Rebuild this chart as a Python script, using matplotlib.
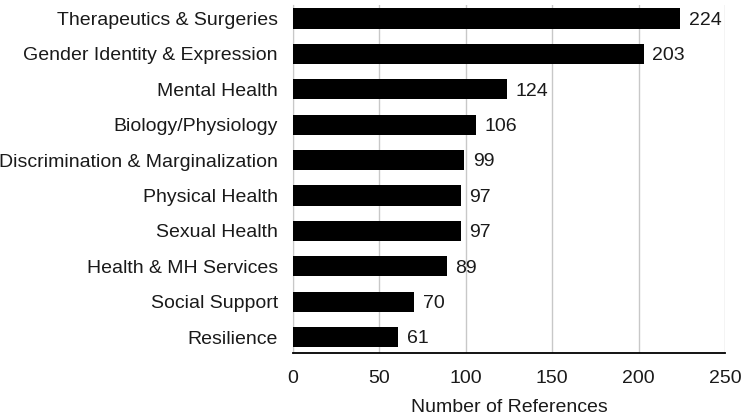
import matplotlib.pyplot as plt
import matplotlib as mpl

categories = ['Therapeutics & Surgeries',
              'Gender Identity & Expression',
              'Mental Health',
              'Biology/Physiology',
              'Discrimination & Marginalization',
              'Physical Health',
              'Sexual Health',
              'Health & MH Services',
              'Social Support',
              'Resilience']
counts = [224, 203, 124, 106, 99, 97, 97, 89, 70, 61]
xticks = [0, 50, 100, 150, 200, 250]

mpl.rcParams['font.family'] = ['Liberation Sans', 'DejaVu Sans']
fs = 14

fig = plt.figure(figsize=(7.42, 4.15), dpi=100)
ax = fig.add_axes([0.395, 0.149, 0.582, 0.839])

ypos = list(range(len(categories)))
ax.barh(ypos, counts, height=0.57, color='black', zorder=3)
for y, v in zip(ypos, counts):
    ax.text(v + 5, y + 0.05, str(v), va='center', ha='left', fontsize=fs, color='#1a1a1a')

ax.set_yticks(ypos)
ax.set_yticklabels(categories, fontsize=fs, color='#1a1a1a')
ax.set_xticks(xticks)
ax.set_xticklabels([str(t) for t in xticks], fontsize=fs, color='#1a1a1a')
ax.set_xlim(0, 250)
ax.set_ylim(9.45, -0.38)
ax.set_xlabel("Number of References", fontsize=fs, color='#1a1a1a', labelpad=9)

ax.grid(axis='x', color='#c8c8c8', linewidth=1, zorder=0)
ax.tick_params(axis='y', length=0, pad=11)
ax.tick_params(axis='x', length=0, pad=12)
for s in ['top', 'right']:
    ax.spines[s].set_visible(False)
ax.spines['left'].set_color('#c8c8c8')
ax.spines['bottom'].set_color('black')
ax.spines['bottom'].set_linewidth(1.3)

plt.savefig("out.png", dpi=100)
